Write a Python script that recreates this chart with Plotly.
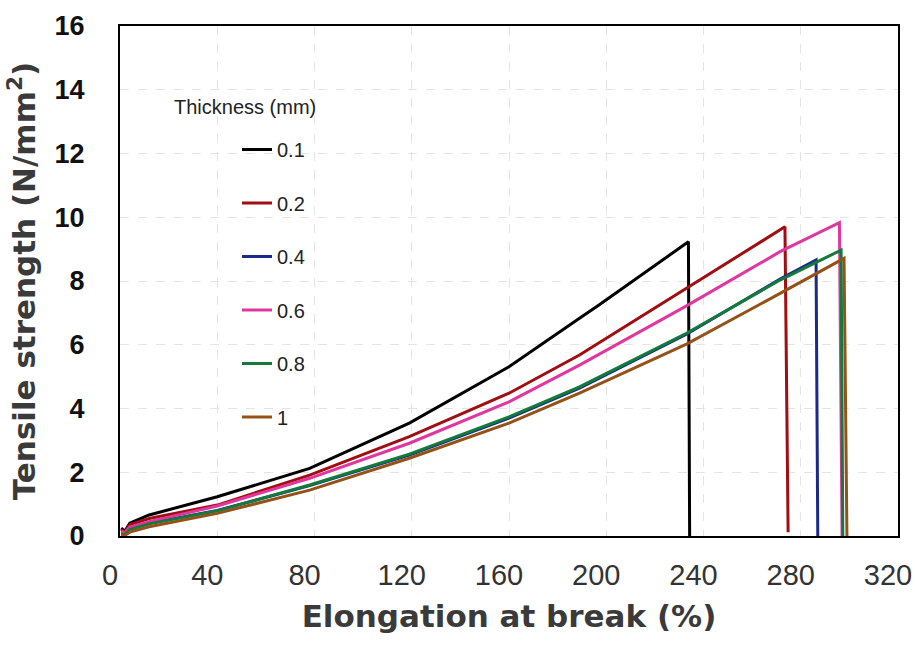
import plotly.graph_objects as go

# Series (elongation %, tensile strength N/mm2)
thickness_labels = ["0.1", "0.2", "0.4", "0.6", "0.8", "1"]
colors = ["#000000", "#a00d12", "#1b2a8a", "#e0379f", "#137a3c", "#955218"]

x_01 = [0.5, 2, 4, 12, 40, 78, 119, 160, 189, 197, 233.8, 234.3]
y_01 = [0.25, 0.15, 0.40, 0.66, 1.23, 2.12, 3.54, 5.31, 6.83, 7.25, 9.23, 0.0]

x_02 = [0.5, 2, 4, 12, 40, 78, 119, 160, 189, 233, 271.5, 273.5, 274.8]
y_02 = [0.20, 0.12, 0.35, 0.55, 0.97, 1.91, 3.12, 4.48, 5.68, 7.77, 9.60, 9.70, 0.12]

x_04 = [0.5, 2, 4, 12, 40, 78, 119, 160, 189, 233, 271.5, 286.3, 287.0]
y_04 = [0.10, 0.08, 0.25, 0.40, 0.80, 1.58, 2.54, 3.70, 4.64, 6.33, 8.06, 8.66, 0.0]

x_06 = [0.5, 2, 4, 12, 40, 78, 119, 160, 189, 233, 271.5, 295.9, 297.0]
y_06 = [0.15, 0.10, 0.28, 0.45, 0.94, 1.81, 2.91, 4.21, 5.36, 7.22, 8.92, 9.83, 0.0]

x_08 = [0.5, 2, 4, 12, 40, 78, 119, 160, 189, 233, 271.5, 296.6, 297.3]
y_08 = [0.05, 0.05, 0.20, 0.38, 0.79, 1.60, 2.57, 3.74, 4.68, 6.36, 8.03, 8.97, 0.0]

x_10 = [0.5, 2, 4, 12, 40, 78, 119, 160, 189, 233, 271.5, 297.8, 299.0]
y_10 = [0.0, 0.02, 0.12, 0.29, 0.71, 1.44, 2.44, 3.54, 4.48, 6.02, 7.61, 8.71, 0.0]

xs = [x_01, x_02, x_04, x_06, x_08, x_10]
ys = [y_01, y_02, y_04, y_06, y_08, y_10]

x_ticks = [0, 40, 80, 120, 160, 200, 240, 280, 320]
y_ticks = [0, 2, 4, 6, 8, 10, 12, 14, 16]

L, R, T, B = 120, 17, 26, 110
W, H = 915, 646
PW, PH = W - L - R, H - T - B

fig = go.Figure()
for i, (lab, c, xv, yv) in enumerate(zip(thickness_labels, colors, xs, ys)):
    fig.add_trace(go.Scatter(
        x=xv, y=yv, mode="lines", name=lab,
        line=dict(color=c, width=3),
        legendgroup=f"g{i}",
    ))

fig.update_layout(
    width=W, height=H,
    margin=dict(l=L, r=R, t=T, b=B, autoexpand=False),
    paper_bgcolor="white", plot_bgcolor="white",
    showlegend=True,
    legend=dict(
        x=(237 - L) / PW, y=(H - B - 130) / PH, xanchor="left", yanchor="top",
        bgcolor="rgba(0,0,0,0)",
        font=dict(family="Liberation Sans, Arial", size=20, color="#222"),
        traceorder="grouped", tracegroupgap=24.5,
    ),
    annotations=[dict(
        text="Thickness (mm)", xref="paper", yref="paper",
        x=(172 - L) / PW, y=(H - B - 107) / PH, xanchor="left", yanchor="middle",
        showarrow=False, font=dict(family="Liberation Sans, Arial", size=20, color="#222"),
    )],
)

fig.update_xaxes(
    range=[0, 320], tickvals=x_ticks, ticktext=[str(v) for v in x_ticks],
    automargin=False,
    showline=True, linecolor="black", linewidth=2, mirror=True,
    showgrid=True, gridcolor="#e4e4e4", gridwidth=1, griddash="dash",
    zeroline=False, ticks="", ticklabelstandoff=12, ticklabelshift=-10,
    tickfont=dict(family="Liberation Sans, Arial", size=29, color="#333"),
    title=dict(text="<b>Elongation at break (%)</b>", standoff=16,
               font=dict(family="DejaVu Sans, Liberation Sans", size=31, color="#3a3a3a")),
)
fig.update_yaxes(
    range=[0, 16], tickvals=y_ticks, ticktext=[str(v) for v in y_ticks],
    automargin=False,
    showline=True, linecolor="black", linewidth=2, mirror=True,
    showgrid=True, gridcolor="#e4e4e4", gridwidth=1, griddash="dash",
    zeroline=False, ticks="", ticklabelstandoff=28,
    tickfont=dict(family="Liberation Sans, Arial", size=27, color="#111", weight="bold"),
    title=dict(text="<b>Tensile strength (N/mm<sup>2</sup>)</b>", standoff=10,
               font=dict(family="DejaVu Sans, Liberation Sans", size=31, color="#3a3a3a")),
)

fig.write_html(
    "out.html",
    config={"displayModeBar": False},
    post_script="document.body.style.margin='0';document.body.style.padding='0';",
)
